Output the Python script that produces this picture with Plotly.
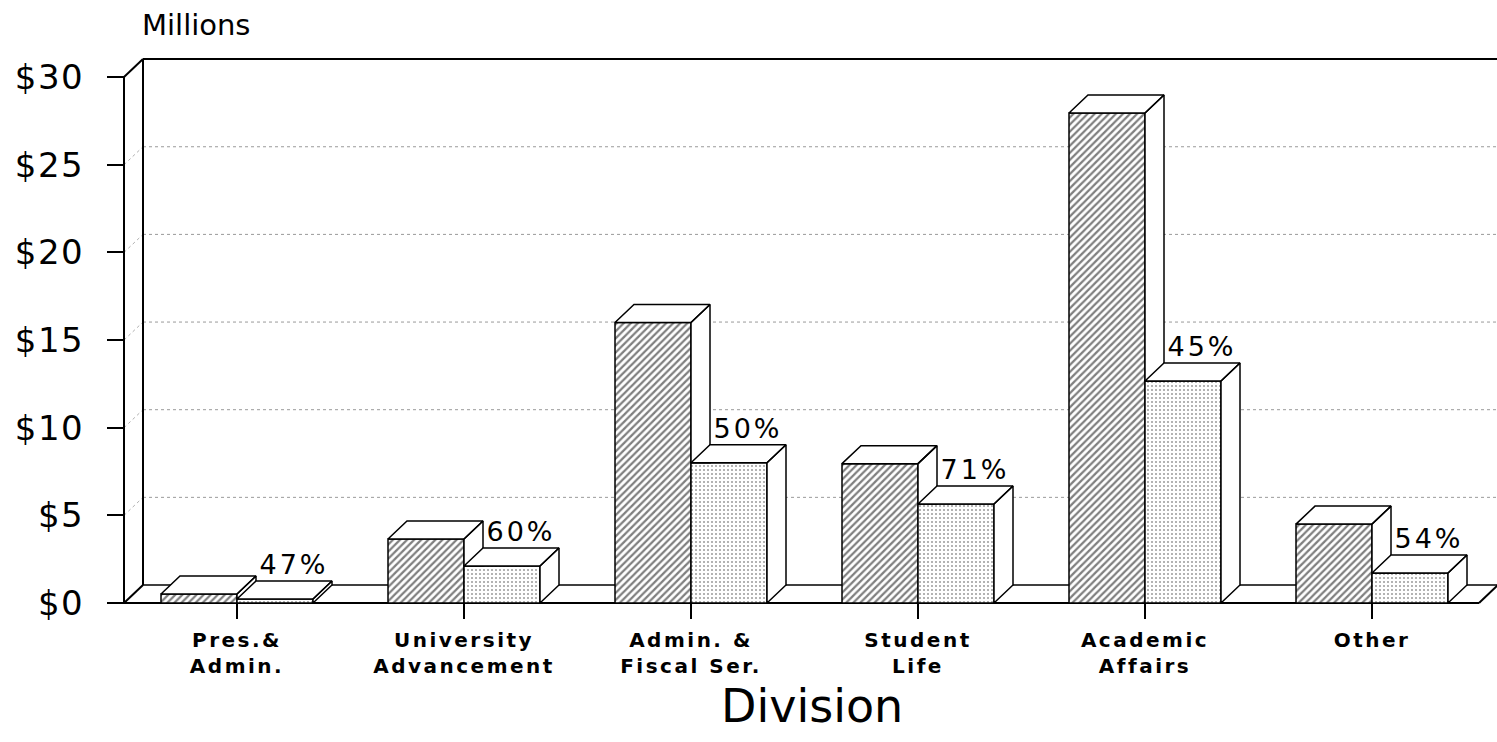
import plotly.graph_objects as go

# ---------------- data ----------------
categories = ["Pres.&<br>Admin.", "University<br>Advancement", "Admin. &<br>Fiscal Ser.",
              "Student<br>Life", "Academic<br>Affairs", "Other"]
budget = [0.51, 3.65, 16.0, 7.95, 27.95, 4.5]      # hatched bars ($ millions)
spent = [0.23, 2.11, 8.0, 5.65, 12.66, 1.71]       # dotted bars ($ millions)
pct_labels = ["47%", "60%", "50%", "71%", "45%", "54%"]
y_tickvals = [0, 5, 10, 15, 20, 25, 30]
y_ticktext = ["$0", "$5", "$10", "$15", "$20", "$25", "$30"]

# ---------------- geometry (pixels -> data units) ----------------
W, H = 1497, 742
X0PX, XSTEP = 237, 227.0        # pixel of first category, pixels per category
Y0PX, YSTEP = 603, 17.53        # pixel of $0, pixels per $1M
Lp, Rp, Tp, Bp = 114, 1497, 48, 613
xr = [(Lp - X0PX) / XSTEP, (Rp - X0PX) / XSTEP]
yr = [(Y0PX - Bp) / YSTEP, (Y0PX - Tp) / YSTEP]
XMIN = (124 - X0PX) / XSTEP
XEND = (1479 - X0PX) / XSTEP
DX = 19 / XSTEP
DY = 18 / YSTEP
BW = 76 / XSTEP
YTOP = max(y_tickvals)


def px2paper_x(p):
    return (p - Lp) / (Rp - Lp)


def px2paper_y(p):
    return (Bp - p) / (Bp - Tp)


idx = list(range(len(categories)))
xb = [i - BW / 2 for i in idx]
xs = [i + BW / 2 for i in idx]

fig = go.Figure()
fig.add_trace(go.Bar(
    x=xb, y=budget, width=BW, showlegend=False, hoverinfo="skip",
    marker=dict(color="white", line=dict(color="black", width=1.5),
                pattern=dict(shape="/", fgcolor="black", bgcolor="white", size=5, solidity=0.45)),
))
fig.add_trace(go.Bar(
    x=xs, y=spent, width=BW, showlegend=False, hoverinfo="skip",
    marker=dict(color="white", line=dict(color="black", width=1.5),
                pattern=dict(shape=".", fgcolor="#333333", bgcolor="white", size=4, solidity=0.2)),
))


def add_poly(xl, yl, pts):
    for (a, b) in pts:
        xl.append(a)
        yl.append(b)
    xl.append(pts[0][0])
    yl.append(pts[0][1])
    xl.append(None)
    yl.append(None)


hx, hy, sx, sy = [], [], [], []
for i in idx:
    v1, v2 = budget[i], spent[i]
    l1, r1 = i - BW, i
    l2, r2 = i, i + BW
    # hatched bar: top and (visible part of) side face
    add_poly(hx, hy, [(l1, v1), (r1, v1), (r1 + DX, v1 + DY), (l1 + DX, v1 + DY)])
    add_poly(hx, hy, [(r1, v2), (r1, v1), (r1 + DX, v1 + DY), (r1 + DX, max(v2, DY))])
    # dotted bar: top and side face
    add_poly(sx, sy, [(l2, v2), (r2, v2), (r2 + DX, v2 + DY), (l2 + DX, v2 + DY)])
    add_poly(sx, sy, [(r2, 0), (r2, v2), (r2 + DX, v2 + DY), (r2 + DX, DY)])

for fx, fy in [(hx, hy), (sx, sy)]:
    fig.add_trace(go.Scatter(x=fx, y=fy, mode="lines", fill="toself", fillcolor="white",
                             line=dict(color="black", width=1.5), showlegend=False,
                             hoverinfo="skip", connectgaps=False))

fig.add_trace(go.Scatter(
    x=[i + BW / 2 + DX for i in idx], y=[s + DY for s in spent], text=pct_labels,
    mode="text", textposition="top center", cliponaxis=False, showlegend=False, hoverinfo="skip",
    textfont=dict(family="DejaVu Sans", size=27, color="black"),
))

# ---------------- 3-D frame ----------------
shapes = []


def seg(x0, y0, x1, y1, width=2, color="black", dash="solid", layer="below"):
    shapes.append(dict(type="line", xref="x", yref="y", x0=x0, y0=y0, x1=x1, y1=y1,
                       line=dict(color=color, width=width, dash=dash), layer=layer))


for v in y_tickvals[1:-1]:
    seg(XMIN + DX, v + DY, xr[1], v + DY, width=1, color="#9a9a9a", dash="dot")
    seg(XMIN, v, XMIN + DX, v + DY, width=1, color="#b0b0b0", dash="dot")
seg(XMIN, 0, XMIN, YTOP)                              # front left edge
seg(XMIN, YTOP, XMIN + DX, YTOP + DY)                 # top-left diagonal
seg(XMIN + DX, YTOP + DY, xr[1], YTOP + DY)           # back top edge
seg(XMIN + DX, DY, XMIN + DX, YTOP + DY)              # back-left vertical
seg(XMIN, 0, XEND, 0)                                 # floor front edge
seg(XMIN, 0, XMIN + DX, DY)                           # floor left diagonal
seg(XMIN + DX, DY, xr[1], DY, width=1.5)              # floor back edge
seg(XEND, 0, XEND + DX, DY)                           # floor right diagonal

fig.update_layout(
    width=W, height=H, barmode="overlay", shapes=shapes,
    margin=dict(l=Lp, r=W - Rp, t=Tp, b=H - Bp, pad=0),
    plot_bgcolor="white", paper_bgcolor="white",
    xaxis=dict(range=xr, tickvals=idx, ticktext=categories, showgrid=False, zeroline=False,
               showline=False, ticks="outside", ticklen=15, tickwidth=1.5, tickcolor="black",
               anchor="free", position=px2paper_y(Y0PX), ticklabelstandoff=4,
               tickfont=dict(family="DejaVu Sans", size=20, color="black", weight="bold"),
               fixedrange=True),
    yaxis=dict(range=yr, tickvals=y_tickvals, ticktext=y_ticktext, showgrid=False,
               zeroline=False, showline=False, ticks="outside", ticklen=17, tickwidth=2,
               tickcolor="black", anchor="free", position=px2paper_x(124),
               ticklabelstandoff=16,
               tickfont=dict(family="DejaVu Sans", size=34, color="black"), fixedrange=True),
    annotations=[
        dict(text="Millions", xref="paper", yref="paper", x=px2paper_x(140), y=px2paper_y(25),
             xanchor="left", yanchor="middle", showarrow=False,
             font=dict(family="DejaVu Sans", size=29, color="black")),
        dict(text="Division", xref="paper", yref="paper", x=px2paper_x(812), y=px2paper_y(706),
             xanchor="center", yanchor="middle", showarrow=False,
             font=dict(family="DejaVu Sans", size=46, color="black")),
    ],
)

post_js = """
var applySpacing = function(){
  document.querySelectorAll('.xtick text').forEach(function(t){t.style.letterSpacing='2.5px';});
  document.querySelectorAll('.ytick text').forEach(function(t){t.style.letterSpacing='1.5px';});
  document.querySelectorAll('.textpoint text').forEach(function(t){t.style.letterSpacing='3px';});
};
document.body.style.margin='0px';
applySpacing(); setTimeout(applySpacing, 50); setTimeout(applySpacing, 300);
"""

fig.write_html("out.html", post_script=post_js, config={"displayModeBar": False})
